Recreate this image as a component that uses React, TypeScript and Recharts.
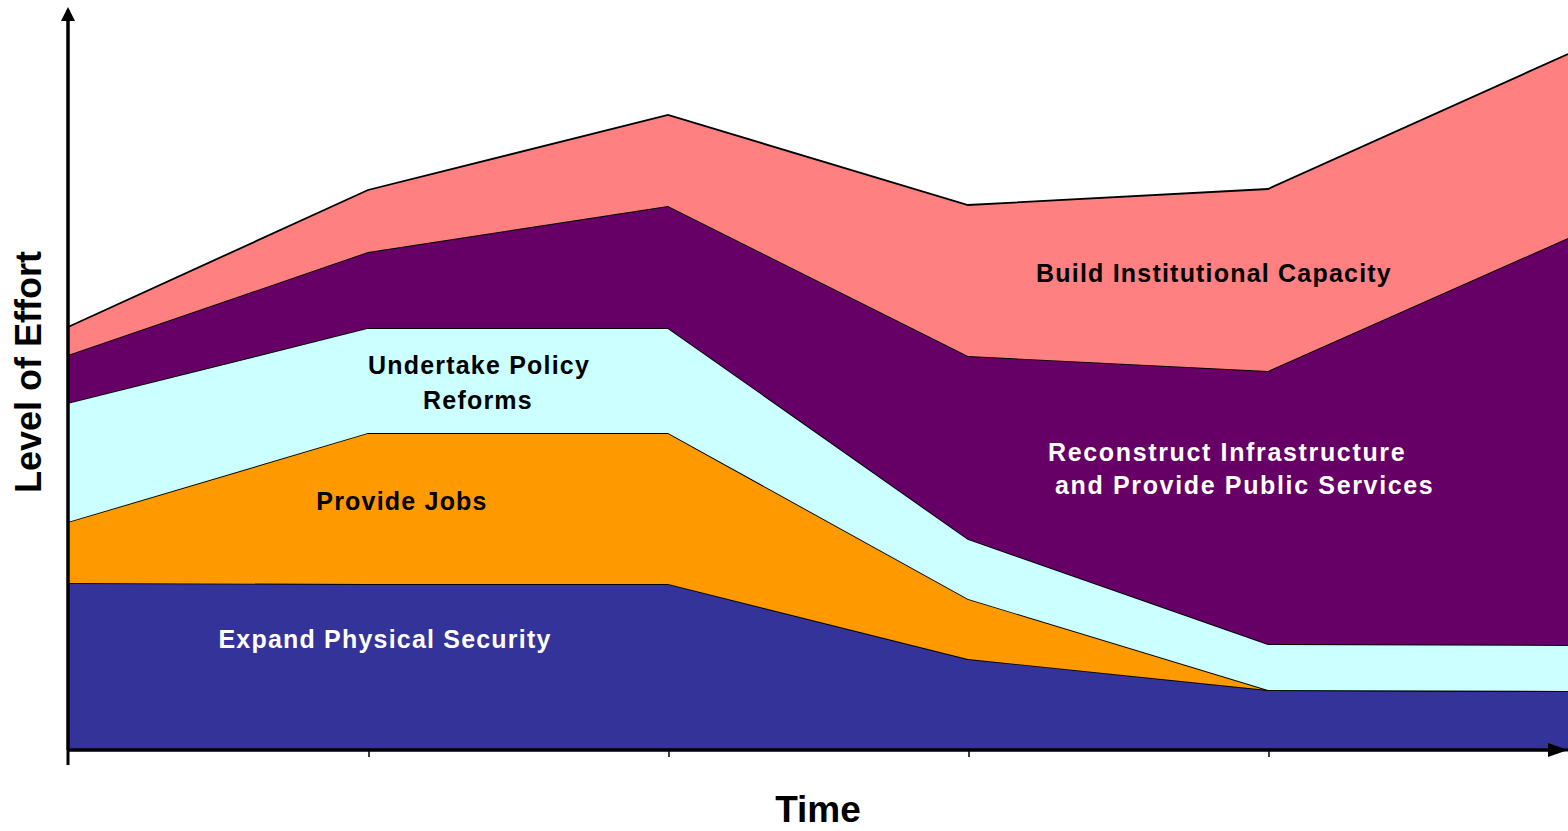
import React from "react";
import { AreaChart, Area, XAxis, YAxis } from "recharts";

const periods = ["T1", "T2", "T3", "T4", "T5", "T6"];
const security = [167, 166, 166, 91, 60, 59];
const jobs = [61, 151, 151, 60, 0, 0];
const policy = [119, 105, 105, 60, 46, 46];
const infrastructure = [48, 76, 122, 183, 273, 407];
const capacity = [28, 62, 91, 151, 182, 184];

const data = periods.map((p, i) => ({
  period: p,
  security: security[i],
  jobs: jobs[i],
  policy: policy[i],
  infrastructure: infrastructure[i],
  capacity: capacity[i],
}));

const W = 1568;
const H = 831;
const FONT = "'Liberation Sans', Arial, Helvetica, sans-serif";

const TickMark = (props: any) => {
  const { x, index } = props;
  if (index === 0 || index === periods.length - 1) return <g />;
  return <line x1={x + 1} y1={750} x2={x + 1} y2={757} stroke="#000" strokeWidth={1.5} />;
};

const labelStyle: React.CSSProperties = {
  fontFamily: FONT,
  fontWeight: 700,
  fontSize: 25,
  letterSpacing: 1.2,
};

const wideLabelStyle: React.CSSProperties = { ...labelStyle, letterSpacing: 1.65 };

export default function App() {
  return (
    <div style={{ position: "absolute", left: 0, top: 0, width: W, height: H, background: "#fff" }}>
      <AreaChart
        width={W}
        height={H}
        data={data}
        margin={{ top: 10, right: 0, bottom: 0, left: 0 }}
      >
        <XAxis
          dataKey="period"
          height={81}
          axisLine={{ stroke: "#000", strokeWidth: 3 }}
          tickLine={false}
          tickSize={0}
          tick={<TickMark />}
          interval={0}
        />
        <YAxis
          width={68}
          domain={[0, 740]}
          tick={false}
          tickLine={false}
          axisLine={{ stroke: "#000", strokeWidth: 3 }}
        />
        <Area type="linear" dataKey="security" stackId="a" stroke="#000" strokeWidth={1.8} fill="#333399" fillOpacity={1} isAnimationActive={false} />
        <Area type="linear" dataKey="jobs" stackId="a" stroke="#000" strokeWidth={1.8} fill="#FF9900" fillOpacity={1} isAnimationActive={false} />
        <Area type="linear" dataKey="policy" stackId="a" stroke="#000" strokeWidth={1.8} fill="#CCFFFF" fillOpacity={1} isAnimationActive={false} />
        <Area type="linear" dataKey="infrastructure" stackId="a" stroke="#000" strokeWidth={1.8} fill="#660066" fillOpacity={1} isAnimationActive={false} />
        <Area type="linear" dataKey="capacity" stackId="a" stroke="#000" strokeWidth={1.8} fill="#FF8080" fillOpacity={1} isAnimationActive={false} />
      </AreaChart>
      <svg
        width={W}
        height={H}
        style={{ position: "absolute", left: 0, top: 0, pointerEvents: "none" }}
      >
        <line x1={68} y1={18} x2={68} y2={765} stroke="#000" strokeWidth={3} />
        <polygon points="68,7 61,21 75,21" fill="#000" />
        <line x1={68} y1={750} x2={1552} y2={750} stroke="#000" strokeWidth={3} />
        <polygon points="1568,750 1548,743 1548,757" fill="#000" />

        <text x={1214} y={282} textAnchor="middle" fill="#000" style={labelStyle}>
          Build Institutional Capacity
        </text>
        <text x={1048} y={461} textAnchor="start" fill="#fff" style={wideLabelStyle}>
          Reconstruct Infrastructure
        </text>
        <text x={1055} y={494} textAnchor="start" fill="#fff" style={wideLabelStyle}>
          and Provide Public Services
        </text>
        <text x={479} y={374} textAnchor="middle" fill="#000" style={labelStyle}>
          Undertake Policy
        </text>
        <text x={478} y={409} textAnchor="middle" fill="#000" style={labelStyle}>
          Reforms
        </text>
        <text x={402} y={510} textAnchor="middle" fill="#000" style={labelStyle}>
          Provide Jobs
        </text>
        <text x={385} y={648} textAnchor="middle" fill="#fff" style={labelStyle}>
          Expand Physical Security
        </text>

        <text
          x={818}
          y={822}
          textAnchor="middle"
          fill="#000"
          style={{ fontFamily: FONT, fontWeight: 700, fontSize: 37 }}
        >
          Time
        </text>
        <text
          x={41}
          y={372}
          textAnchor="middle"
          fill="#000"
          transform="rotate(-90, 41, 372)"
          style={{ fontFamily: FONT, fontWeight: 700, fontSize: 36 }}
        >
          Level of Effort
        </text>
      </svg>
    </div>
  );
}
